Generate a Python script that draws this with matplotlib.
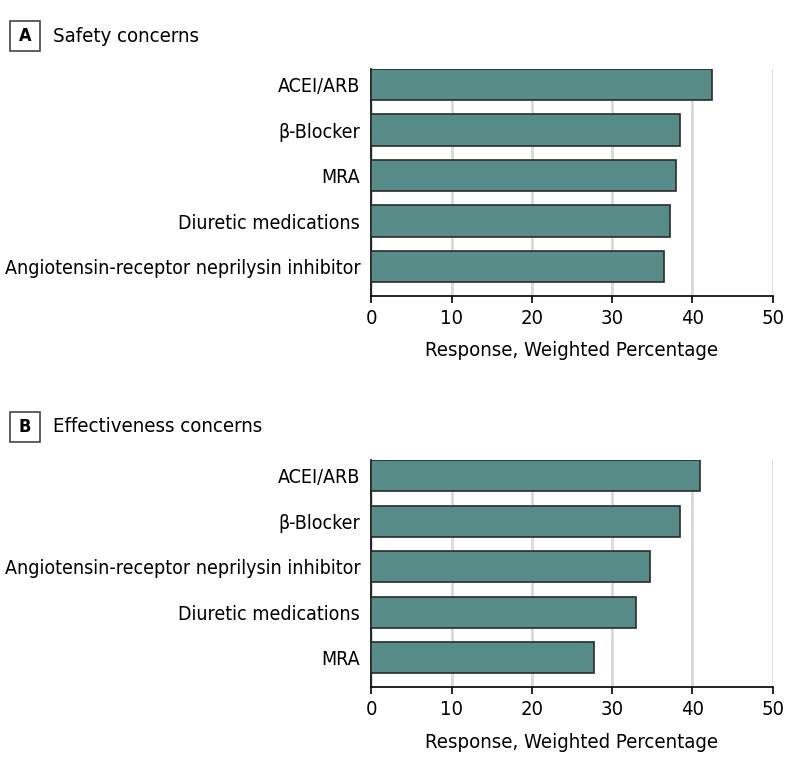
import matplotlib
matplotlib.use("Agg")
import matplotlib.pyplot as plt
from matplotlib.patches import Rectangle

plt.rcParams["font.family"] = ["DejaVu Sans"]
plt.rcParams["font.stretch"] = "condensed"

# panel A: safety concerns
safety_labels = ["ACEI/ARB", "β-Blocker", "MRA", "Diuretic medications",
                 "Angiotensin-receptor neprilysin inhibitor"]
safety_values = [42.5, 38.5, 37.9, 37.2, 36.5]

# panel B: effectiveness concerns
effect_labels = ["ACEI/ARB", "β-Blocker", "Angiotensin-receptor neprilysin inhibitor",
                 "Diuretic medications", "MRA"]
effect_values = [41.0, 38.5, 34.7, 33.0, 27.7]

x_ticks = [0, 10, 20, 30, 40, 50]
x_label = "Response, Weighted Percentage"

BAR_COLOR = "#588c88"
EDGE_COLOR = "#2b2b2b"
GRID_COLOR = "#d9d9d9"
FS = 14

W, H = 794, 773
fig = plt.figure(figsize=(W / 100, H / 100), dpi=100)


def px_axes(left, top, right, bottom):
    return fig.add_axes([left / W, 1 - bottom / H, (right - left) / W, (bottom - top) / H])


def draw_panel(ax, labels, values):
    pos = range(len(labels))
    ax.barh(pos, values, height=0.69, color=BAR_COLOR, edgecolor=EDGE_COLOR,
            linewidth=1.2, zorder=3)
    ax.set_xlim(0, 50)
    ax.set_ylim(len(labels) - 0.35, -0.345)
    ax.set_xticks(x_ticks)
    ax.set_yticks(list(pos))
    ax.set_yticklabels(labels, fontsize=FS)
    ax.tick_params(axis="y", length=0, pad=8)
    ax.tick_params(axis="x", length=5, width=1.2, labelsize=14.5, pad=4, color="black")
    ax.grid(axis="x", color=GRID_COLOR, linewidth=2, zorder=0)
    for s in ["top", "right"]:
        ax.spines[s].set_visible(False)
    for s in ["left", "bottom"]:
        ax.spines[s].set_linewidth(1.2)
        ax.spines[s].set_color("black")
    ax.set_xlabel(x_label, fontsize=14.6, labelpad=10)


def panel_header(letter, title, cy):
    box = Rectangle((9.5 / W, 1 - (cy + 15) / H), 30.5 / W, 30 / H,
                    transform=fig.transFigure, fill=False, edgecolor="#444444",
                    linewidth=1.2)
    fig.patches.append(box)
    fig.text(24.75 / W, 1 - cy / H, letter, ha="center", va="center",
             fontsize=13, fontweight="bold")
    fig.text(53 / W, 1 - cy / H, title, ha="left", va="center", fontsize=14.6)


ax_a = px_axes(371.3, 69, 772.7, 296)
draw_panel(ax_a, safety_labels, safety_values)
panel_header("A", "Safety concerns", 36)

ax_b = px_axes(371.3, 460, 772.7, 687.3)
draw_panel(ax_b, effect_labels, effect_values)
panel_header("B", "Effectiveness concerns", 427)

fig.savefig("out.png", dpi=100)
